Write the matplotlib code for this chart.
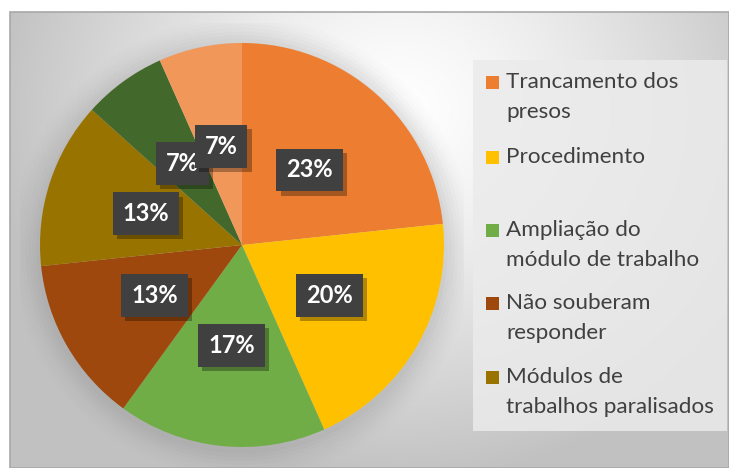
import numpy as np
import matplotlib
matplotlib.use("Agg")
import matplotlib.pyplot as plt
from matplotlib.patches import Rectangle, Circle
import matplotlib.patheffects as pe

plt.rcParams['font.family'] = ['Lato', 'DejaVu Sans']

# ---- data ----
values = [7, 6, 5, 4, 4, 2, 2]
colors = ['#ED7D31', '#FFC000', '#70AD47', '#9E480E', '#997300', '#43682B', '#F1975A']
legend_labels = ['Trancamento dos\npresos', 'Procedimento', 'Ampliação do\nmódulo de trabalho',
                 'Não souberam\nresponder', 'Módulos de\ntrabalhos paralisados']

W, H = 729, 468
fig = plt.figure(figsize=(W / 100, H / 100), dpi=100)
fig.patch.set_facecolor('white')

def fx(x):
    return x / W

def fy(y):
    return 1 - y / H

# background chart area with radial gradient
bg = fig.add_axes([fx(10), 0, fx(W) - fx(10), fy(12)])
bg.set_axis_off()
gx, gy = np.meshgrid(np.linspace(10, W, 400), np.linspace(12, H, 260))
d = np.sqrt(((gx - 400) / 420) ** 2 + ((gy - 110) / 380) ** 2)
shade = np.clip(1 - 0.25 * d ** 1.3, 0.76, 1.0)
img = np.dstack([shade, shade, shade])
bg.imshow(img, extent=[0, 1, 0, 1], aspect='auto', origin='upper')
bg.set_xlim(0, 1)
bg.set_ylim(0, 1)
bg.add_patch(Rectangle((0, 0), 1, 1, transform=bg.transAxes, fill=False,
                       edgecolor='#a8a8a8', lw=1.2, clip_on=False))

# pie
cx, cy, r = 242, 245, 202
ax = fig.add_axes([fx(cx - r * 1.1), fy(cy + r * 1.1), (2.2 * r) / W, (2.2 * r) / H])
ax.set_axis_off()
# soft shadow behind the pie
for k, a in zip(range(8), np.linspace(0.05, 0.012, 8)):
    ax.add_patch(Circle((0, -0.015), 1.0 + 0.018 * (k + 1), color='#808080', alpha=a, lw=0))

wedges, texts, autotexts = ax.pie(values, colors=colors, startangle=90, counterclock=False,
                                  autopct='%1.0f%%', pctdistance=0.5,
                                  wedgeprops=dict(linewidth=0),
                                  textprops=dict(color='white', fontsize=17, fontweight='bold'))
ax.set_xlim(-1.1, 1.1)
ax.set_ylim(-1.1, 1.1)

for t in autotexts:
    t.set_bbox(dict(boxstyle='square,pad=0.42', facecolor='#404040', edgecolor='none'))
    t.set_zorder(10)
    t.get_bbox_patch().set_path_effects([
        pe.SimplePatchShadow(offset=(3, -3), shadow_rgbFace='black', alpha=0.3),
        pe.Normal()])

# legend (manual)
fig.patches.append(Rectangle((fx(473), fy(431)), fx(727) - fx(473), fy(60) - fy(431),
                             transform=fig.transFigure, facecolor='#ebebeb', edgecolor='none',
                             alpha=0.85, zorder=2))
ys = [82, 157, 230, 303, 377]
for lab, col, yy in zip(legend_labels, colors, ys):
    fig.patches.append(Rectangle((fx(486), fy(yy + 6.5)), fx(13), 13 / H,
                                 transform=fig.transFigure, facecolor=col, edgecolor='none', zorder=3))
    for i, line in enumerate(lab.split('\n')):
        fig.text(fx(506), fy(yy + 30 * i), line, ha='left', va='center', fontsize=16.2,
                 color='#404040', zorder=4)

fig.savefig('out.png', dpi=100)
